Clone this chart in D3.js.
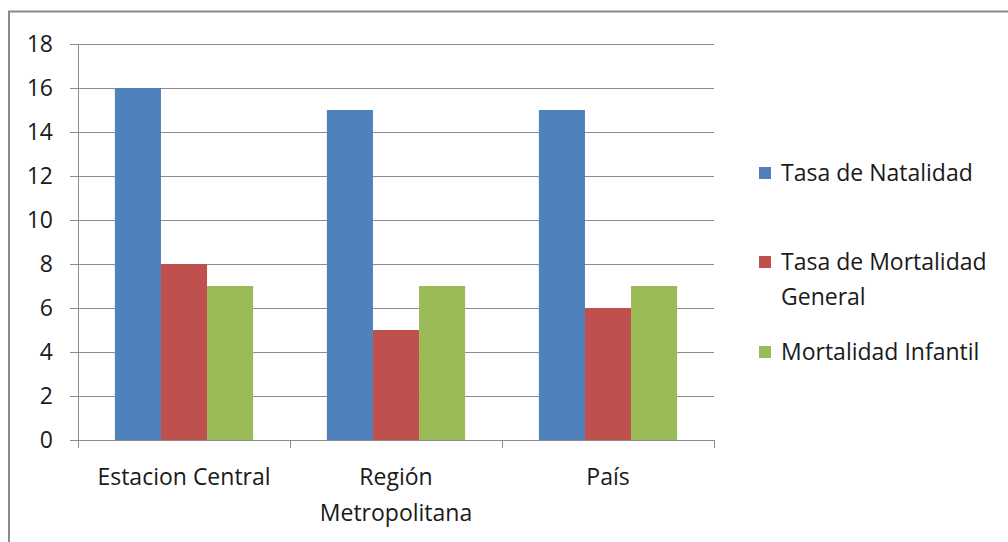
<!DOCTYPE html>
<html><head><meta charset="utf-8">
<script src="https://cdn.jsdelivr.net/npm/d3@7"></script>
<style>body{margin:0;background:#fff;overflow:hidden}svg{display:block}</style>
</head><body><svg id="c" width="1008" height="542"></svg>
<script>
const categories = [["Estacion Central"], ["Región", "Metropolitana"], ["País"]];
const seriesNames = [["Tasa de Natalidad"], ["Tasa de Mortalidad", "General"], ["Mortalidad Infantil"]];
const natalidad = [16, 15, 15];
const mortalidadGeneral = [8, 5, 6];
const mortalidadInfantil = [7, 7, 7];
const yTicks = [0, 2, 4, 6, 8, 10, 12, 14, 16, 18];
const colors = ["#4F81BD", "#C0504D", "#9BBB59"];

const series = [natalidad, mortalidadGeneral, mortalidadInfantil];
const svg = d3.select("#c");
const font = "'Open Sans', sans-serif";
const fs = 23;

// outer frame
svg.append("path").attr("d", "M9,542 V11.5 H1008").attr("fill", "none").attr("stroke", "#8a8a8a").attr("stroke-width", 2);

const x0 = d3.scaleBand().domain(categories.map((d, i) => i)).range([78, 714]);
const y = d3.scaleLinear().domain([0, 18]).range([440, 44]);
const x1 = d3.scaleBand().domain([0, 1, 2]).range([0, x0.bandwidth()]).paddingOuter(0.8).paddingInner(0);

// gridlines
svg.append("g").selectAll("line").data(yTicks).join("line")
  .attr("x1", 70).attr("x2", 714).attr("y1", d => Math.round(y(d)) + 0.5).attr("y2", d => Math.round(y(d)) + 0.5)
  .attr("stroke", "#8c8c8c").attr("stroke-width", 1);

// y labels
svg.append("g").selectAll("text").data(yTicks).join("text")
  .attr("x", 53).attr("y", d => y(d)).attr("dy", "0.36em").attr("text-anchor", "end")
  .attr("font-family", font).attr("font-size", fs).attr("fill", "#1a1a1a").text(d => d);

// bars
const g = svg.append("g");
categories.forEach((c, ci) => {
  series.forEach((s, si) => {
    g.append("rect").attr("x", x0(ci) + x1(si)).attr("width", x1.bandwidth())
      .attr("y", y(s[ci])).attr("height", y(0) - y(s[ci])).attr("fill", colors[si]);
  });
});

// axes lines
svg.append("line").attr("x1", 78.5).attr("x2", 78.5).attr("y1", 44).attr("y2", 448).attr("stroke", "#8c8c8c");
const catTicks = [0, 1, 2].map(i => x0(i)).concat([714]);
svg.append("g").selectAll("line").data(catTicks.slice(1)).join("line")
  .attr("x1", d => Math.round(d) + 0.5).attr("x2", d => Math.round(d) + 0.5).attr("y1", 440).attr("y2", 448).attr("stroke", "#8c8c8c");

// category labels
categories.forEach((c, ci) => {
  const t = svg.append("text").attr("text-anchor", "middle").attr("font-family", font).attr("font-size", fs).attr("fill", "#1a1a1a");
  c.forEach((line, li) => t.append("tspan").attr("x", x0(ci) + x0.bandwidth() / 2).attr("y", 485 + li * 36).text(line));
});

// legend
const legY = [173, 262, 352];
seriesNames.forEach((n, i) => {
  svg.append("rect").attr("x", 759).attr("y", legY[i] - 6).attr("width", 12).attr("height", 12).attr("fill", colors[i]);
  const t = svg.append("text").attr("font-family", font).attr("font-size", fs).attr("fill", "#1a1a1a");
  n.forEach((line, li) => t.append("tspan").attr("x", 781).attr("y", legY[i] + 8 + li * 35).text(line));
});
</script></body></html>
